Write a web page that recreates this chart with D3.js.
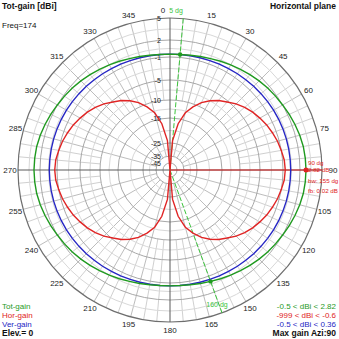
<!DOCTYPE html>
<html><head><meta charset="utf-8">
<script src="https://cdn.jsdelivr.net/npm/d3@7"></script>
<style>
html,body{margin:0;padding:0;background:#fff;}
text{font-family:"Liberation Sans",Arial,sans-serif;}
</style></head>
<body>
<svg id="c" width="339" height="339"></svg>
<script>
// ---- data ----
const angleLabels = [0,15,30,45,60,75,90,105,120,135,150,165,180,195,210,225,240,255,270,285,300,315,330,345];
const ringLabels = [5,2,-1,-5,-10,-15,-25,-35,-45];
const lightRings = [3.5,0.5,-3,-7.5,-12.5,-20,-30];
const azimuths = d3.range(0,360,5);
const horGain = [-999,-24,-17,-13,-10.8,-8.9,-7.5,-6.3,-5.3,-4.4,-3.7,-3.1,-2.6,-2.1,-1.7,-1.3,-1.0,-0.7,-0.6,
  -0.7,-1.0,-1.3,-1.7,-2.1,-2.6,-3.1,-3.7,-4.4,-5.3,-6.3,-7.5,-8.9,-10.8,-13,-17,-24,-999,
  -24,-17,-13,-10.8,-8.9,-7.5,-6.3,-5.3,-4.4,-3.7,-3.1,-2.6,-2.1,-1.7,-1.3,-1.0,-0.7,-0.6,
  -0.7,-1.0,-1.3,-1.7,-2.1,-2.6,-3.1,-3.7,-4.4,-5.3,-6.3,-7.5,-8.9,-10.8,-13,-17,-24];
const verGain = [-0.50,-0.49,-0.47,-0.44,-0.40,-0.34,-0.28,-0.21,-0.14,-0.06,0.02,0.09,0.16,0.22,0.27,0.31,0.34,0.35,0.36,
  0.35,0.34,0.31,0.27,0.22,0.16,0.09,0.02,-0.06,-0.14,-0.21,-0.28,-0.34,-0.40,-0.44,-0.47,-0.49,-0.50,
  -0.49,-0.47,-0.44,-0.40,-0.34,-0.28,-0.21,-0.14,-0.06,0.02,0.09,0.16,0.22,0.27,0.31,0.34,0.35,0.36,
  0.35,0.34,0.31,0.27,0.22,0.16,0.09,0.02,-0.06,-0.14,-0.21,-0.28,-0.34,-0.40,-0.44,-0.47,-0.49];
const totGain = [-0.50,-0.47,-0.38,-0.21,-0.02,0.23,0.48,0.74,1.01,1.30,1.56,1.79,2.01,2.22,2.41,2.59,2.73,2.79,2.82,
  2.79,2.73,2.59,2.41,2.22,2.01,1.79,1.56,1.30,1.01,0.74,0.48,0.23,-0.02,-0.21,-0.38,-0.47,-0.50,
  -0.47,-0.38,-0.21,-0.02,0.23,0.48,0.74,1.01,1.30,1.56,1.79,2.01,2.22,2.41,2.59,2.73,2.79,2.82,
  2.79,2.73,2.59,2.41,2.22,2.01,1.79,1.56,1.30,1.01,0.74,0.48,0.23,-0.02,-0.21,-0.38,-0.47];
const bwAngles = [5,160];
const maxAzi = 90, maxGain = 2.82;
const infoLeft = ["Tot-gain","Hor-gain","Ver-gain"];
const infoRight = ["-0.5 < dBi < 2.82","-999 < dBi < -0.6","-0.5 < dBi < 0.36"];

// ---- layout ----
const cx=170, cy=170, R=152;
const GREEN="#1f9a1f", RED="#e02424", BLUE="#2626c4", LGREEN="#3cc43c";
const svg = d3.select("#c");
svg.append("rect").attr("width",339).attr("height",339).attr("fill","#fff");
const r = d3.scaleLinear().domain([-60,-45,-35,-25,-15,-10,-5,-1,2,5]).range([0,7,14,27,52,70,90,113,130,152]).clamp(true);
const rad = d => d*Math.PI/180;
const px = (a,rr)=> cx + rr*Math.sin(rad(a));
const py = (a,rr)=> cy - rr*Math.cos(rad(a));
const g = svg.append("g");

// spokes
d3.range(0,360,5).forEach(a=>{
  if (a%90===0) return;
  const inner = a%15===0 ? r(-35) : r(-10);
  g.append("line").attr("x1",px(a,inner)).attr("y1",py(a,inner)).attr("x2",px(a,R)).attr("y2",py(a,R))
    .attr("stroke", a%15===0 ? "#bdbdbd" : "#d0d0d0").attr("stroke-width",1);
});
// rings
lightRings.forEach(v=>g.append("circle").attr("cx",cx).attr("cy",cy).attr("r",r(v)).attr("fill","none").attr("stroke","#d8d8d8"));
ringLabels.forEach((v,i)=>g.append("circle").attr("cx",cx).attr("cy",cy).attr("r",r(v)).attr("fill","none")
  .attr("stroke", i===0 ? "#6e6e6e" : "#a8a8a8").attr("stroke-width", i===0?1.2:1));
// axes
[0,90].forEach(a=>{
  g.append("line").attr("x1",px(a,R)).attr("y1",py(a,R)).attr("x2",px(a+180,R)).attr("y2",py(a+180,R))
   .attr("stroke","#5a5a5a").attr("stroke-width",1);
});
// ring labels
ringLabels.forEach(v=>g.append("text").attr("x",cx-9).attr("y",cy-r(v)).attr("text-anchor","end")
  .attr("dominant-baseline","central").attr("font-size",7).attr("fill","#222").text(v));
// angle labels
angleLabels.forEach(a=>{
  const rr = 160;
  g.append("text").attr("x",px(a,rr) + (a===0?-7:0) + (a===90?3:0)).attr("y",py(a,rr)).attr("text-anchor","middle")
    .attr("dominant-baseline","central").attr("font-size",8).attr("fill","#222").text(a);
});

// bw marker lines
bwAngles.forEach(a=>{
  g.append("line").attr("x1",cx).attr("y1",cy).attr("x2",px(a,R)).attr("y2",py(a,R))
   .attr("stroke",LGREEN).attr("stroke-width",1).attr("stroke-dasharray","5,2");
});
// max gain line
g.append("line").attr("x1",cx).attr("y1",cy).attr("x2",px(maxAzi,R)).attr("y2",py(maxAzi,R)).attr("stroke",RED).attr("stroke-width",1);

// curves
const line = d3.lineRadial().angle(d=>rad(d[0])).radius(d=>r(d[1])).curve(d3.curveLinearClosed);
const cg = svg.append("g").attr("transform",`translate(${cx},${cy})`);
[[horGain,RED],[verGain,BLUE],[totGain,GREEN]].forEach(([s,col])=>{
  cg.append("path").attr("d", line(azimuths.map((a,i)=>[a,s[i]]))).attr("fill","none").attr("stroke",col).attr("stroke-width",1.4);
});

// markers
bwAngles.forEach(a=>{
  const v = totGain[azimuths.indexOf(a)];
  svg.append("circle").attr("cx",px(a,r(v))).attr("cy",py(a,r(v))).attr("r",2.2).attr("fill",GREEN);
});
svg.append("circle").attr("cx",px(maxAzi,r(maxGain))).attr("cy",py(maxAzi,r(maxGain))).attr("r",2.5).attr("fill",RED);
svg.append("text").attr("x",176).attr("y",10).attr("text-anchor","middle").attr("dominant-baseline","central")
  .attr("font-size",7).attr("fill",LGREEN).text(bwAngles[0]+" dg");
svg.append("text").attr("x",217).attr("y",304).attr("text-anchor","middle").attr("dominant-baseline","central")
  .attr("font-size",7).attr("fill",LGREEN).text(bwAngles[1]+" dg");
const redInfo = [maxAzi+" dg", maxGain.toFixed(2)+" dB", "bw: 155 dg", "fb: 0.02 dB"];
const redY = [162,169,180,190];
redInfo.forEach((t,i)=>svg.append("text").attr("x",308).attr("y",redY[i]).attr("dominant-baseline","central")
  .attr("font-size",6.2).attr("fill",RED).text(t));

// titles
svg.append("text").attr("x",2).attr("y",6).attr("dominant-baseline","central").attr("font-size",8.5).attr("font-weight","bold").attr("fill","#111").text("Tot-gain [dBi]");
svg.append("text").attr("x",336).attr("y",6).attr("text-anchor","end").attr("dominant-baseline","central").attr("font-size",8.5).attr("font-weight","bold").attr("fill","#111").text("Horizontal plane");
svg.append("text").attr("x",2).attr("y",25).attr("dominant-baseline","central").attr("font-size",8).attr("fill","#111").text("Freq=174");
const cols=[GREEN,RED,BLUE], ly=[306,315,324];
infoLeft.forEach((t,i)=>svg.append("text").attr("x",2).attr("y",ly[i]).attr("dominant-baseline","central").attr("font-size",8).attr("fill",cols[i]).text(t));
infoRight.forEach((t,i)=>svg.append("text").attr("x",336).attr("y",ly[i]).attr("text-anchor","end").attr("dominant-baseline","central").attr("font-size",8).attr("fill",cols[i]).text(t));
svg.append("text").attr("x",2).attr("y",333).attr("dominant-baseline","central").attr("font-size",8.5).attr("font-weight","bold").attr("fill","#111").text("Elev.= 0");
svg.append("text").attr("x",336).attr("y",333).attr("text-anchor","end").attr("dominant-baseline","central").attr("font-size",8.5).attr("font-weight","bold").attr("fill","#111").text("Max gain Azi:"+maxAzi);
</script>
</body></html>
